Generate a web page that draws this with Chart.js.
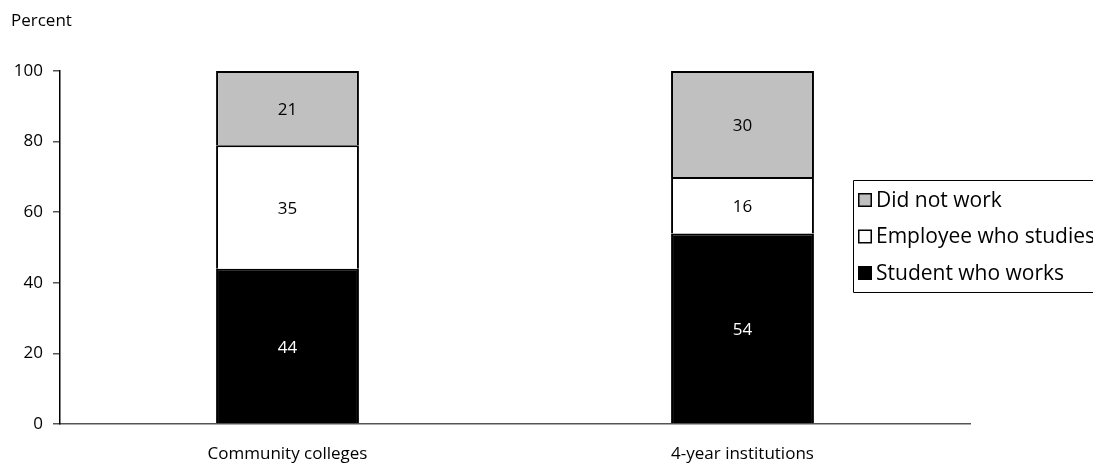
<!DOCTYPE html>
<html>
<head>
<meta charset="utf-8">
<script src="https://cdn.jsdelivr.net/npm/chart.js@4.4.1/dist/chart.umd.min.js"></script>
<style>
  html, body { margin: 0; padding: 0; background: #fff; }
  #wrap { width: 1093px; height: 466px; }
</style>
</head>
<body>
<div id="wrap"><canvas id="chart"></canvas></div>
<script>
// Data
const categories = ['Community colleges', '4-year institutions']
const studentWhoWorks = [44, 54]
const employeeWhoStudies = [35, 16]
const didNotWork = [21, 30]
const yTicks = [0, 20, 40, 60, 80, 100]

const FONT = '"Open Sans", "Noto Sans", sans-serif'

// Draws the value inside each stacked segment
const segmentLabels = {
  id: 'segmentLabels',
  afterDatasetsDraw(chart) {
    const ctx = chart.ctx
    ctx.save()
    ctx.font = '17px ' + FONT
    ctx.textAlign = 'center'
    ctx.textBaseline = 'middle'
    chart.data.datasets.forEach((ds, i) => {
      chart.getDatasetMeta(i).data.forEach((bar, j) => {
        const mid = (bar.y + bar.base) / 2
        ctx.fillStyle = ds.labelColor
        ctx.fillText(String(ds.data[j]), bar.x, mid + 2)
      })
    })
    ctx.restore()
  }
}

// "Percent" caption and the boxed legend on the right
const extras = {
  id: 'extras',
  afterDraw(chart) {
    const ctx = chart.ctx
    ctx.save()
    ctx.fillStyle = '#000'
    ctx.font = '17px ' + FONT
    ctx.textBaseline = 'middle'
    ctx.textAlign = 'left'
    ctx.fillText('Percent', 11, 21)

    // legend box, open on the right where it runs off the picture
    const left = 853.5, top = 180.5, bottom = 292.5
    ctx.strokeStyle = '#000'
    ctx.lineWidth = 1
    ctx.beginPath()
    ctx.moveTo(chart.width + 5, top)
    ctx.lineTo(left, top)
    ctx.lineTo(left, bottom)
    ctx.lineTo(chart.width + 5, bottom)
    ctx.stroke()

    const items = chart.data.datasets.slice().reverse()
    ctx.font = '21px ' + FONT
    items.forEach((ds, k) => {
      const cy = 200 + k * 36.5
      ctx.fillStyle = ds.backgroundColor
      ctx.fillRect(858, cy - 7, 14, 14)
      ctx.lineWidth = 1.5
      ctx.strokeStyle = '#000'
      ctx.strokeRect(858.75, cy - 6.25, 12.5, 12.5)
      ctx.fillStyle = '#000'
      ctx.fillText(ds.label, 876, cy + 1)
    })
    ctx.restore()
  }
}

const barOpts = {
  borderColor: '#000',
  borderWidth: { top: 2, left: 2, right: 2, bottom: 0 },
  borderSkipped: false,
  barPercentage: 0.314,
  categoryPercentage: 1
}

new Chart(document.getElementById('chart'), {
  type: 'bar',
  data: {
    labels: categories,
    datasets: [
      Object.assign({ label: 'Student who works', data: studentWhoWorks, backgroundColor: '#000000', labelColor: '#ffffff' }, barOpts),
      Object.assign({ label: 'Employee who studies', data: employeeWhoStudies, backgroundColor: '#ffffff', labelColor: '#000000' }, barOpts),
      Object.assign({ label: 'Did not work', data: didNotWork, backgroundColor: '#c0c0c0', labelColor: '#000000' }, barOpts)
    ]
  },
  options: {
    responsive: true,
    maintainAspectRatio: false,
    animation: false,
    layout: {
      padding: { top: 71, right: 123, left: 0, bottom: 0 }
    },
    plugins: {
      legend: { display: false },
      tooltip: { enabled: false }
    },
    scales: {
      x: {
        stacked: true,
        grid: { display: false, drawTicks: false },
        border: { display: true, color: '#555', width: 1.5 },
        ticks: {
          color: '#000',
          font: { family: FONT, size: 17 },
          padding: 20,
          maxRotation: 0
        },
        afterFit(scale) { scale.height = 42 }
      },
      y: {
        stacked: true,
        min: 0,
        max: 100,
        afterBuildTicks(scale) { scale.ticks = yTicks.map(v => ({ value: v })) },
        grid: {
          display: true,
          drawOnChartArea: false,
          drawTicks: true,
          tickLength: 7,
          color: '#555',
          lineWidth: 1.5
        },
        border: { display: true, color: '#000', width: 1.5 },
        ticks: {
          color: '#000',
          font: { family: FONT, size: 17 },
          padding: 10
        },
        afterFit(scale) { scale.width = 60 }
      }
    }
  },
  plugins: [segmentLabels, extras]
})
</script>
</body>
</html>
